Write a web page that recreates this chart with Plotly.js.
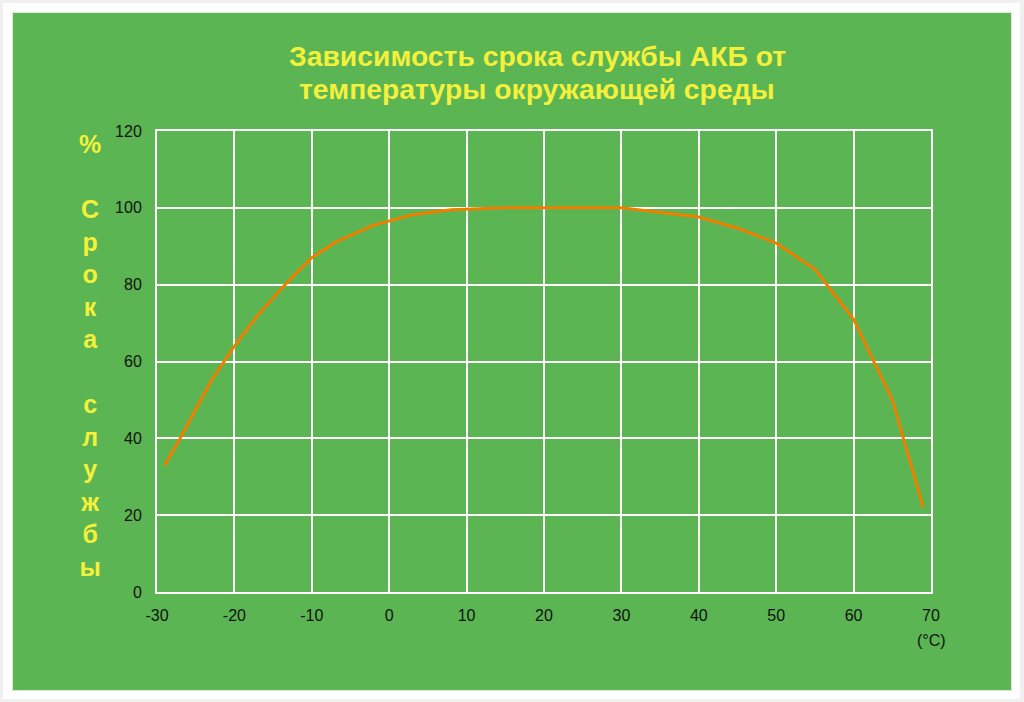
<!DOCTYPE html>
<html>
<head>
<meta charset="utf-8">
<script src="https://cdn.plot.ly/plotly-3.0.1.min.js"></script>
<style>
  html, body { margin: 0; padding: 0; background: #f0f0f0; width: 1024px; height: 702px; overflow: hidden; }
  #frame { position: absolute; left: 3px; top: 3px; width: 1017px; height: 696px; background: #ffffff; }
  #chart { position: absolute; left: 13px; top: 13px; width: 998px; height: 677px; box-shadow: 0 0 0 1px #dfe8dc; }
</style>
</head>
<body>
<div id="frame"></div>
<div id="chart"></div>
<script>
// температура окружающей среды, °C
const temps = [-29, -27, -23, -20, -17, -13, -10, -7, -2, 3, 8, 15, 30, 40, 45, 50, 55, 60, 65, 69];
// срок службы АКБ, %
const lifePct = [33, 40, 55, 64, 72, 81, 87, 91, 95.5, 98.2, 99.5, 100, 100, 97.6, 94.7, 90.8, 84, 71, 50, 22];

const xTicks = [-30, -20, -10, 0, 10, 20, 30, 40, 50, 60, 70];
const xTickLabels = ['-30', '-20', '-10', '0', '10', '20', '30', '40', '50', '60', '70'];
const yTicks = [0, 20, 40, 60, 80, 100, 120];

const titleLines = ['Зависимость срока службы АКБ от', 'температуры окружающей среды'];
const yLabelLetters = ['%', '', 'С', 'р', 'о', 'к', 'а', '', 'с', 'л', 'у', 'ж', 'б', 'ы'];

const green = '#5ab552';
const yellow = '#f4f03c';
const fontFamily = 'Liberation Sans, Arial, sans-serif';

const trace = {
    x: temps,
    y: lifePct,
    type: 'scatter',
    mode: 'lines',
    line: { color: '#f07f00', width: 3 },
    hoverinfo: 'skip'
};

const axisCommon = {
    showgrid: true,
    gridcolor: '#ffffff',
    gridwidth: 2,
    zeroline: false,
    showline: true,
    mirror: true,
    linecolor: '#ffffff',
    linewidth: 2,
    ticks: 'outside',
    tickcolor: 'rgba(0,0,0,0)',
    tickfont: { family: fontFamily, size: 16, color: '#111111' },
    fixedrange: true
};

// заголовок в две строки с заданным межстрочным интервалом
const titleAnnotations = titleLines.map((line, i) => ({
    text: line,
    xref: 'paper', yref: 'paper',
    x: 0.491, xanchor: 'center',
    y: 1, yanchor: 'middle', yshift: 75 - i * 33,
    showarrow: false,
    font: { family: fontFamily, size: 28.3, color: yellow, weight: 'bold' }
}));

const layout = {
    width: 998,
    height: 677,
    margin: { l: 144, r: 80, t: 118, b: 98 },
    paper_bgcolor: green,
    plot_bgcolor: green,
    showlegend: false,
    xaxis: Object.assign({}, axisCommon, {
        range: [-30, 70],
        tickvals: xTicks,
        ticktext: xTickLabels,
        ticklen: 8
    }),
    yaxis: Object.assign({}, axisCommon, {
        range: [0, 120],
        tickvals: yTicks,
        ticklen: 10
    }),
    annotations: titleAnnotations.concat([
        {
            text: yLabelLetters.join('<br>'),
            xref: 'paper', yref: 'paper',
            x: 0, xshift: -67, xanchor: 'center',
            y: 0.512, yanchor: 'middle',
            showarrow: false,
            align: 'center',
            font: { family: fontFamily, size: 25, color: yellow, weight: 'bold' }
        },
        {
            text: '(°C)',
            xref: 'x', yref: 'paper',
            x: 70, y: 0, yanchor: 'middle', yshift: -48,
            showarrow: false,
            font: { family: fontFamily, size: 16, color: '#111111' }
        }
    ])
};

Plotly.newPlot('chart', [trace], layout, { displayModeBar: false, staticPlot: true });
</script>
</body>
</html>
